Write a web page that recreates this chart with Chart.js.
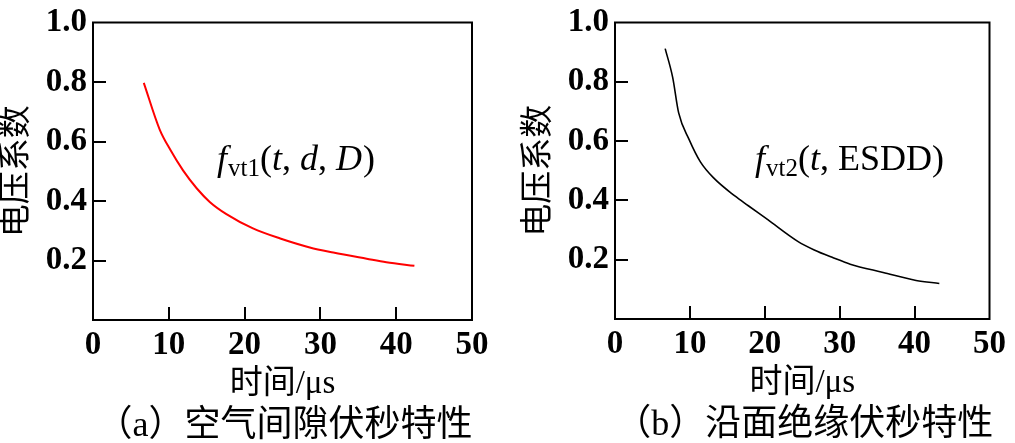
<!DOCTYPE html>
<html>
<head>
<meta charset="utf-8">
<script src="https://cdn.jsdelivr.net/npm/chart.js@4.4.0/dist/chart.umd.min.js"></script>
<style>
    body { margin: 0; background: #fff; }
    #wrap { position: relative; width: 1015px; height: 443px; }
    .panel { position: absolute; top: 0; height: 443px; }
    #panelA { left: 0; width: 508px; }
    #panelB { left: 508px; width: 507px; }
</style>
</head>
<body>
<div id="wrap">
    <div class="panel" id="panelA"><canvas id="chartA"></canvas></div>
    <div class="panel" id="panelB"><canvas id="chartB"></canvas></div>
</div>
<script>
// time axis (μs) and voltage coefficient
const airTime = [6.7, 8.8, 10.2, 11.9, 13.7, 15.4, 17.6, 21.1, 24.7, 28.6, 31.7, 36.1, 38.7, 42.4];
const airCoef = [0.797, 0.640, 0.572, 0.502, 0.442, 0.397, 0.356, 0.308, 0.274, 0.244, 0.227, 0.206, 0.194, 0.182];

const surfTime = [6.7, 7.7, 8.5, 9.9, 11.4, 13.2, 16.0, 17.8, 20.4, 24.4, 26.6, 29.2, 31.4, 35.8, 40.2, 43.3];
const surfCoef = [0.912, 0.815, 0.695, 0.605, 0.530, 0.475, 0.415, 0.382, 0.335, 0.262, 0.233, 0.206, 0.185, 0.157, 0.130, 0.120];

const xTickMarks = [10, 20, 30, 40];
const yTickMarks = [0.2, 0.4, 0.6, 0.8];

const yTitle = '电压系数';
const xTitle = '时间/μs';
const captionA = '（a）空气间隙伏秒特性';
const captionB = '（b）沿面绝缘伏秒特性';

const SERIF = '"Liberation Serif", "Times New Roman", "Noto Sans CJK SC"';

function toPoints(xs, ys) {
    return xs.map((x, i) => ({ x: x, y: ys[i] }));
}

// draws frame, inward ticks, axis titles, caption and the formula label
function framePlugin(caption, formula) {
    return {
        id: 'frame',
        afterDraw(chart) {
            const ctx = chart.ctx;
            const a = chart.chartArea;
            const xs = chart.scales.x;
            const ys = chart.scales.y;
            ctx.save();
            ctx.strokeStyle = '#000';
            ctx.lineWidth = 2;
            ctx.strokeRect(a.left, a.top, a.right - a.left, a.bottom - a.top);

            ctx.beginPath();
            for (const v of xTickMarks) {
                const px = Math.round(xs.getPixelForValue(v));
                ctx.moveTo(px, a.bottom);
                ctx.lineTo(px, a.bottom - 13);
            }
            for (const v of yTickMarks) {
                const py = Math.round(ys.getPixelForValue(v));
                ctx.moveTo(a.left, py);
                ctx.lineTo(a.left + 13, py);
            }
            ctx.stroke();

            ctx.fillStyle = '#000';
            const cx = (a.left + a.right) / 2;
            const cy = (a.top + a.bottom) / 2;

            // y title
            ctx.save();
            ctx.translate(a.left - 76, cy);
            ctx.rotate(-Math.PI / 2);
            ctx.font = '33px ' + SERIF;
            ctx.textAlign = 'center';
            ctx.textBaseline = 'middle';
            ctx.fillText(yTitle, 0, 0);
            ctx.restore();

            ctx.textAlign = 'center';
            ctx.textBaseline = 'middle';
            ctx.font = '33px ' + SERIF;
            ctx.fillText(xTitle, cx, a.bottom + 64);
            ctx.font = '36px ' + SERIF;
            ctx.fillText(caption, cx + 2, a.bottom + 107);

            // formula label, piece by piece
            ctx.textAlign = 'left';
            ctx.textBaseline = 'alphabetic';
            let x = a.left + formula.dx;
            const base = a.top + 147;
            for (const part of formula.parts) {
                ctx.font = (part.it ? 'italic ' : '') + (part.sub ? '25px ' : '36px ') + SERIF;
                ctx.fillText(part.t, x, part.sub ? base + 6 : base);
                x += ctx.measureText(part.t).width + (part.gap || 0);
            }
            ctx.restore();
        }
    };
}

function makeChart(id, points, color, width, opts) {
    const ctx = document.getElementById(id).getContext('2d');
    return new Chart(ctx, {
        type: 'line',
        data: {
            datasets: [{
                data: points,
                borderColor: color,
                borderWidth: width,
                pointRadius: 0,
                fill: false,
                cubicInterpolationMode: 'monotone'
            }]
        },
        options: {
            responsive: true,
            maintainAspectRatio: false,
            animation: false,
            events: [],
            layout: {
                autoPadding: false,
                padding: { top: opts.top, right: opts.right, left: 0, bottom: 0 }
            },
            plugins: {
                legend: { display: false },
                tooltip: { enabled: false }
            },
            scales: {
                x: {
                    type: 'linear',
                    min: 0,
                    max: 50,
                    grid: { display: false, drawTicks: false },
                    border: { display: false },
                    ticks: {
                        stepSize: 10,
                        autoSkip: false,
                        maxRotation: 0,
                        padding: 9,
                        color: '#000',
                        font: { family: SERIF, size: 33, weight: 'bold', lineHeight: 1 }
                    },
                    afterFit: s => { s.height = opts.xh; }
                },
                y: {
                    min: 0,
                    max: 1,
                    grid: { display: false, drawTicks: false },
                    border: { display: false },
                    ticks: {
                        stepSize: 0.2,
                        padding: 6,
                        color: '#000',
                        font: { family: SERIF, size: 33, weight: 'bold', lineHeight: 1 },
                        callback: v => (v === 0 ? '' : v.toFixed(1))
                    },
                    afterFit: s => { s.width = opts.yw; }
                }
            }
        },
        plugins: [framePlugin(opts.caption, opts.formula)]
    });
}

makeChart('chartA', toPoints(airTime, airCoef), '#ff0000', 2, {
    top: 17, right: 36, xh: 123, yw: 93,
    caption: captionA,
    formula: {
        dx: 124,
        parts: [
            { t: 'f', it: true, gap: 1 },
            { t: 'vt1', sub: true },
            { t: '(' },
            { t: 't', it: true },
            { t: ', ' },
            { t: 'd', it: true },
            { t: ', ' },
            { t: 'D', it: true, gap: 1 },
            { t: ')' }
        ]
    }
});

makeChart('chartB', toPoints(surfTime, surfCoef), '#000000', 1.6, {
    top: 16, right: 21, xh: 124, yw: 107,
    caption: captionB,
    formula: {
        dx: 140,
        parts: [
            { t: 'f', it: true, gap: 1 },
            { t: 'vt2', sub: true },
            { t: '(' },
            { t: 't', it: true },
            { t: ', ESDD)' }
        ]
    }
});
</script>
</body>
</html>
